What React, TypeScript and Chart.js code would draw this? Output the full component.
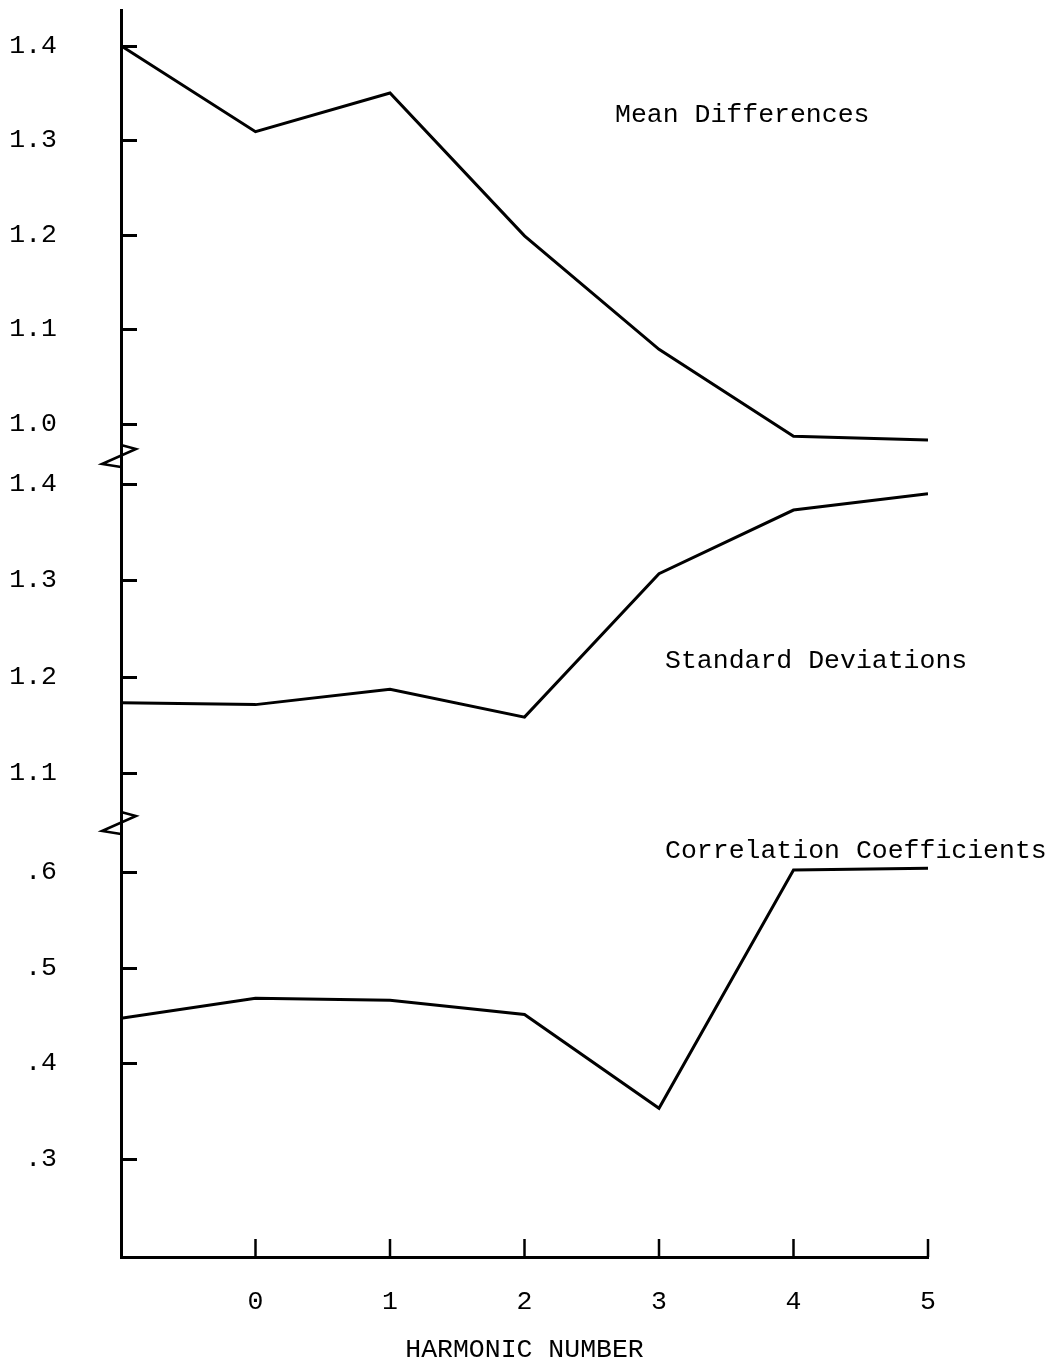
import React, { useEffect, useRef } from "react";
import { Chart, registerables } from "chart.js";

Chart.register(...registerables);

// Harmonic numbers along the bottom axis (the first column has no tick label)
const harmonics = [-1, 0, 1, 2, 3, 4, 5];
const harmonicTicks = [0, 1, 2, 3, 4, 5];

// Series values per harmonic
const meanDifferences = [1.4, 1.309, 1.35, 1.199, 1.079, 0.987, 0.983];
const standardDeviations = [1.173, 1.171, 1.187, 1.158, 1.307, 1.373, 1.39];
const correlationCoefficients = [0.447, 0.468, 0.466, 0.451, 0.353, 0.602, 0.604];

// Tick values and their printed labels for each stacked panel
const meanTicks = [1.0, 1.1, 1.2, 1.3, 1.4];
const meanTickLabels = ["1.0", "1.1", "1.2", "1.3", "1.4"];
const sdTicks = [1.1, 1.2, 1.3, 1.4];
const sdTickLabels = ["1.1", "1.2", "1.3", "1.4"];
const corrTicks = [0.3, 0.4, 0.5, 0.6];
const corrTickLabels = [".3", ".4", ".5", ".6"];

const seriesNames = ["Mean Differences", "Standard Deviations", "Correlation Coefficients"];
const xTitle = "HARMONIC NUMBER";

const FONT_FAMILY = "'Liberation Mono', 'DejaVu Sans Mono', monospace";
const FONT_SIZE = 26.5;
const INK = "#000";

const panelIds = ["yMean", "ySd", "yCorr"];

// Short tick marks drawn inward from the axes
const inwardTicks = {
  id: "inwardTicks",
  afterDraw(chart: any, _args: any, opts: any) {
    const ctx = chart.ctx;
    ctx.save();
    ctx.strokeStyle = INK;
    ctx.lineCap = "butt";
    ctx.lineWidth = 3;
    for (const id of panelIds) {
      const s = chart.scales[id];
      for (const t of s.ticks) {
        const y = Math.round(s.getPixelForValue(t.value)) + 0.5;
        ctx.beginPath();
        ctx.moveTo(s.right, y);
        ctx.lineTo(s.right + opts.yLength, y);
        ctx.stroke();
      }
    }
    const xs = chart.scales.x;
    ctx.lineWidth = 2.5;
    for (const t of xs.ticks) {
      const x = xs.getPixelForValue(t.value);
      ctx.beginPath();
      ctx.moveTo(x, xs.top);
      ctx.lineTo(x, xs.top - opts.xLength);
      ctx.stroke();
    }
    ctx.restore();
  },
};

// Zig-zag break symbols where one panel's scale meets the next
const axisBreaks = {
  id: "axisBreaks",
  afterDraw(chart: any) {
    const ctx = chart.ctx;
    ctx.save();
    ctx.strokeStyle = INK;
    ctx.lineWidth = 2.5;
    ctx.lineJoin = "miter";
    for (const id of ["yMean", "ySd"]) {
      const s = chart.scales[id];
      const x = s.right;
      const y = s.bottom;
      ctx.beginPath();
      ctx.moveTo(x, y - 11);
      ctx.lineTo(x + 15, y - 7);
      ctx.lineTo(x - 19, y + 8);
      ctx.lineTo(x, y + 11);
      ctx.stroke();
    }
    ctx.restore();
  },
};

// Series names written beside their curves
const seriesLabels = {
  id: "seriesLabels",
  afterDraw(chart: any, _args: any, opts: any) {
    const ctx = chart.ctx;
    ctx.save();
    ctx.fillStyle = INK;
    ctx.font = `${FONT_SIZE}px ${FONT_FAMILY}`;
    ctx.textAlign = "left";
    ctx.textBaseline = "alphabetic";
    for (const item of opts.items) {
      const x = chart.scales.x.getPixelForValue(item.x);
      const y = chart.scales[item.axis].getPixelForValue(item.y);
      ctx.fillText(item.text, x, y);
    }
    ctx.restore();
  },
};

function panelScale(
  min: number,
  max: number,
  weight: number,
  stackWeight: number,
  ticks: number[],
  labels: string[]
) {
  return {
    type: "linear",
    position: "left",
    stack: "panels",
    stackWeight,
    weight,
    min,
    max,
    afterBuildTicks: (s: any) => {
      s.ticks = ticks.map((v) => ({ value: v }));
    },
    afterFit: (s: any) => {
      s.width = 121;
      s.paddingTop = 0;
      s.paddingBottom = 0;
    },
    // label offset comes from the (hidden) tick length; the visible ticks point inward
    grid: { display: false, drawTicks: true, tickLength: 64 },
    border: { display: true, color: INK, width: 3 },
    ticks: {
      color: INK,
      padding: 0,
      font: { family: FONT_FAMILY, size: FONT_SIZE },
      callback: (_v: any, i: number) => labels[i],
    },
  };
}

export default function App() {
  const canvasRef = useRef<HTMLCanvasElement | null>(null);

  useEffect(() => {
    if (!canvasRef.current) return;
    const line = (label: string, data: number[], yAxisID: string) => ({
      label,
      data: harmonics.map((h, i) => ({ x: h, y: data[i] })),
      yAxisID,
      borderColor: INK,
      borderWidth: 3,
      pointRadius: 0,
      tension: 0,
      fill: false,
    });

    const chart = new Chart(canvasRef.current, {
      type: "line",
      data: {
        datasets: [
          line(seriesNames[0], meanDifferences, "yMean"),
          line(seriesNames[1], standardDeviations, "ySd"),
          line(seriesNames[2], correlationCoefficients, "yCorr"),
        ],
      },
      options: {
        responsive: false,
        animation: false,
        devicePixelRatio: 1,
        layout: { padding: { top: 10, right: 126, left: 0, bottom: 0 } },
        plugins: {
          legend: { display: false },
          tooltip: { enabled: false },
          inwardTicks: { yLength: 16, xLength: 18 },
          seriesLabels: {
            items: [
              { text: seriesNames[0], x: 2.673, y: 1.3193, axis: "yMean" },
              { text: seriesNames[1], x: 3.045, y: 1.2089, axis: "ySd" },
              { text: seriesNames[2], x: 3.045, y: 0.6146, axis: "yCorr" },
            ],
          },
        } as any,
        scales: {
          x: {
            type: "linear",
            position: "bottom",
            min: -1,
            max: 5,
            afterBuildTicks: (s: any) => {
              s.ticks = harmonicTicks.map((v) => ({ value: v }));
            },
            afterFit: (s: any) => {
              s.height = 110;
              s.paddingLeft = 0;
              s.paddingRight = 0;
            },
            grid: { display: false, drawTicks: true, tickLength: 29 },
            border: { display: true, color: INK, width: 3 },
            ticks: {
              color: INK,
              padding: 0,
              maxRotation: 0,
              font: { family: FONT_FAMILY, size: FONT_SIZE },
              callback: (v: any) => String(v),
            },
            title: {
              display: true,
              text: xTitle,
              color: INK,
              font: { family: FONT_FAMILY, size: FONT_SIZE },
              padding: { top: 0, bottom: 1 },
            },
          },
          yMean: panelScale(0.9662, 1.4377, 3, 446, meanTicks, meanTickLabels),
          ySd: panelScale(1.0481, 1.4291, 2, 367, sdTicks, sdTickLabels),
          yCorr: panelScale(0.1976, 0.6512, 1, 434, corrTicks, corrTickLabels),
        } as any,
      },
      plugins: [inwardTicks, axisBreaks, seriesLabels],
    } as any);

    return () => chart.destroy();
  }, []);

  return (
    <div style={{ position: "absolute", left: 0, top: 0, width: 1054, height: 1367, background: "#fff" }}>
      <canvas ref={canvasRef} width={1054} height={1367} style={{ display: "block" }} />
    </div>
  );
}
